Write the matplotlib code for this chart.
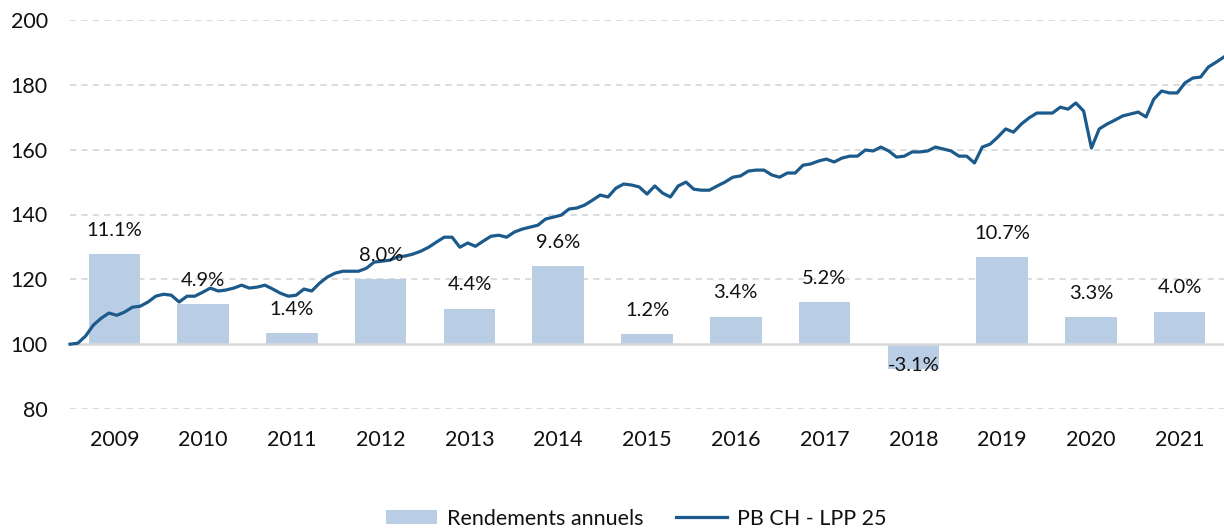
import numpy as np
import matplotlib
matplotlib.use("Agg")
import matplotlib.pyplot as plt
from matplotlib.patches import Patch
from matplotlib.lines import Line2D

years = ["2009", "2010", "2011", "2012", "2013", "2014", "2015",
         "2016", "2017", "2018", "2019", "2020", "2021"]
annual_returns = [11.1, 4.9, 1.4, 8.0, 4.4, 9.6, 1.2, 3.4, 5.2, -3.1, 10.7, 3.3, 4.0]

index_values = [
    100.3, 102.5, 105.9, 108.0, 109.6, 108.9, 109.9, 111.4, 111.7, 113.0,
    114.8, 115.4, 115.1, 113.0, 114.8, 114.8, 116.0, 117.3, 116.4, 116.7,
    117.3, 118.2, 117.3, 117.6, 118.2,
    117.0, 115.7, 114.8, 115.1, 117.0, 116.4, 118.8, 120.7, 121.9, 122.5,
    122.5, 122.5, 123.4, 125.3, 125.6, 125.9, 126.9, 127.2, 127.8, 128.7,
    129.9, 131.5, 133.0, 133.0,
    129.9, 131.2, 130.2, 131.8, 133.3, 133.6, 133.0, 134.6, 135.5, 136.1,
    136.7, 138.6, 139.2, 139.8, 141.7, 142.0, 142.9, 144.4, 146.0, 145.4,
    148.1, 149.4, 149.1, 148.5, 146.3, 148.8,
    146.6, 145.4, 148.8, 150.0, 147.8, 147.5, 147.5, 148.8, 150.0, 151.5,
    151.9, 153.4, 153.7, 153.7, 152.2, 151.5, 152.8, 152.8, 155.2, 155.6,
    156.5, 157.1, 156.2, 157.4, 158.0,
    158.0, 159.9, 159.6, 160.8, 159.6, 157.7, 158.0, 159.3, 159.3, 159.6,
    160.8, 160.2, 159.6, 158.0, 158.0, 155.9, 160.8, 161.7, 163.9, 166.4,
    165.4, 167.9, 169.8, 171.3, 171.3,
    171.3, 173.1, 172.5, 174.4, 171.9, 160.5, 166.4, 167.9, 169.1, 170.4,
    171.0, 171.6, 170.1, 175.6, 178.1, 177.5, 177.5, 180.6, 182.1, 182.4,
    185.5, 187.0, 188.6,
]

y_ticks = [80, 100, 120, 140, 160, 180, 200]
base = 100
bar_scale = 2.5  # index points per percent

bar_color = "#b9cde5"
line_color = "#1b5a8b"
grid_color = "#d9d9d9"
text_color = "#111111"

plt.rcParams["font.family"] = ["Lato", "DejaVu Sans"]

fig = plt.figure(figsize=(12.24, 5.28), dpi=100)
ax = fig.add_axes([70 / 1224, 1 - 409 / 528, 1 - 70 / 1224, (409 - 20) / 528])

xpos = np.arange(len(years))
heights = [r * bar_scale for r in annual_returns]
ax.bar(xpos, heights, bottom=base, width=0.58, color=bar_color, zorder=2)

for x, r, h in zip(xpos, annual_returns, heights):
    if r >= 0:
        ax.annotate(f"{r:.1f}%", (x, base + h), xytext=(0, 11), textcoords="offset points",
                    ha="center", va="bottom", fontsize=14.5, color=text_color, zorder=5)
    else:
        ax.annotate(f"{r:.1f}%", (x, base + h), xytext=(0, 3), textcoords="offset points",
                    ha="center", va="center", fontsize=14.5, color=text_color, zorder=5)

xl = np.linspace(-0.5, len(years) - 0.5, len(index_values) + 1)
ax.plot(xl, [base] + index_values, color=line_color, lw=2.3, zorder=4,
        solid_joinstyle="round", clip_on=False)

ax.set_xlim(-0.5, len(years) - 0.5)
ax.set_ylim(80, 200)
ax.set_yticks(y_ticks)
ax.set_xticks(xpos)
ax.set_xticklabels(years)
ax.tick_params(axis="both", length=0, labelsize=15.5, colors=text_color)
ax.tick_params(axis="y", pad=16)
ax.tick_params(axis="x", pad=15)
for s in ax.spines.values():
    s.set_visible(False)
for t in y_ticks:
    if t != base:
        ax.axhline(t, color=grid_color, lw=1.3, ls=(0, (3.5, 2.8)), zorder=0)
ax.axhline(base, color=grid_color, lw=1.8, zorder=3)

handles = [Patch(facecolor=bar_color, edgecolor="none"),
           Line2D([0], [0], color=line_color, lw=2.3)]
fig.legend(handles, ["Rendements annuels", "PB CH - LPP 25"], loc="lower center",
           bbox_to_anchor=(636 / 1224, -0.038), ncol=2, frameon=False, fontsize=15.5,
           handlelength=2.4, handleheight=0.65, columnspacing=1.5, handletextpad=0.45,
           labelcolor=text_color)

fig.savefig("out.png", dpi=100)
